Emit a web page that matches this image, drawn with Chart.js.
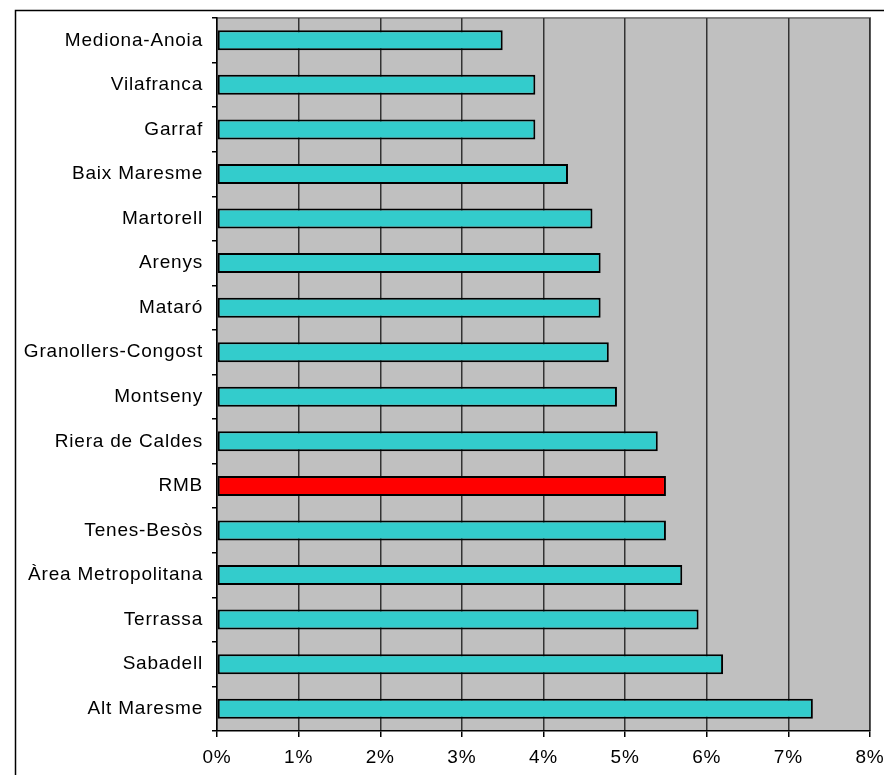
<!DOCTYPE html>
<html>
<head>
<meta charset="utf-8">
<script src="https://cdn.jsdelivr.net/npm/chart.js@4/dist/chart.umd.min.js"></script>
<style>
html,body{margin:0;padding:0;background:#fff;}
#wrap{position:absolute;left:0;top:0;width:884px;height:775px;}
</style>
</head>
<body>
<div id="wrap"><canvas id="c" width="884" height="775"></canvas></div>
<script>
const categories = ["Mediona-Anoia","Vilafranca","Garraf","Baix Maresme","Martorell","Arenys","Mataró","Granollers-Congost","Montseny","Riera de Caldes","RMB","Tenes-Besòs","Àrea Metropolitana","Terrassa","Sabadell","Alt Maresme"];
const values = [3.5,3.9,3.9,4.3,4.6,4.7,4.7,4.8,4.9,5.4,5.5,5.5,5.7,5.9,6.2,7.3];
const highlight = "RMB";
const xTicks = [0,1,2,3,4,5,6,7,8];

const barColors = categories.map(c => c === highlight ? "#FF0000" : "#33CCCC");

const frame = {
  id: "frame",
  beforeDraw(chart) {
    const ctx = chart.ctx, a = chart.chartArea;
    ctx.letterSpacing = "0.8px";
    ctx.save();
    ctx.fillStyle = "#C0C0C0";
    ctx.fillRect(a.left, a.top, a.right - a.left, a.bottom - a.top);
    ctx.strokeStyle = "#808080";
    ctx.lineWidth = 2;
    ctx.beginPath();
    ctx.moveTo(a.left, a.top);
    ctx.lineTo(a.right, a.top);
    ctx.lineTo(a.right, a.bottom);
    ctx.stroke();
    ctx.strokeStyle = "#000";
    ctx.lineWidth = 1.5;
    ctx.beginPath();
    ctx.moveTo(15.5, 775);
    ctx.lineTo(15.5, 10.5);
    ctx.lineTo(884, 10.5);
    ctx.stroke();
    ctx.restore();
  }
};

Chart.defaults.font.family = "'Liberation Sans', Arial, sans-serif";
Chart.defaults.font.size = 19;
Chart.defaults.color = "#000";

new Chart(document.getElementById("c"), {
  type: "bar",
  data: {
    labels: categories,
    datasets: [{
      data: values,
      backgroundColor: barColors,
      borderColor: "#000",
      borderWidth: 2,
      borderSkipped: false,
      barPercentage: 0.45,
      categoryPercentage: 1.0
    }]
  },
  options: {
    indexAxis: "y",
    responsive: false,
    animation: false,
    devicePixelRatio: 1,
    layout: { padding: { top: 18, right: 14, left: 0, bottom: 0 } },
    plugins: { legend: { display: false }, tooltip: { enabled: false } },
    scales: {
      x: {
        min: 0, max: 8,
        afterBuildTicks(s) { s.ticks = xTicks.map(v => ({ value: v })); },
        afterFit(s) { s.height = 44; s.paddingLeft = 0; s.paddingRight = 0; },
        ticks: { callback: v => v + "%", padding: 9, maxRotation: 0, autoSkip: false },
        grid: { color: "#333", lineWidth: 1.5, tickLength: 6, drawOnChartArea: true, tickColor: "#000" },
        border: { display: true, color: "#000", width: 1.5 }
      },
      y: {
        afterFit(s) { s.width = 217; s.paddingTop = 0; s.paddingBottom = 0; },
        ticks: { padding: 9, autoSkip: false },
        grid: { drawOnChartArea: false, drawTicks: true, tickLength: 5, color: "#000", lineWidth: 1.5, offset: true },
        border: { display: true, color: "#000", width: 1.5 }
      }
    }
  },
  plugins: [frame]
});
</script>
</body>
</html>
